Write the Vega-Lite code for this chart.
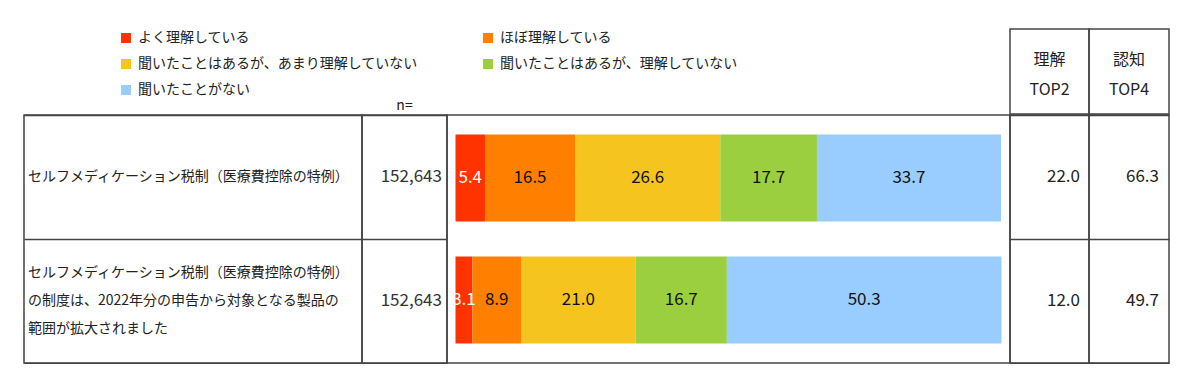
{
  "$schema": "https://vega.github.io/schema/vega-lite/v6.json",
  "padding": {"left": 23, "top": 28, "right": 0, "bottom": 0},
  "config": {
    "font": "Noto Sans CJK JP",
    "view": {"stroke": "#444", "strokeWidth": 1.5},
    "text": {"font": "Noto Sans CJK JP", "color": "#222"}
  },
  "datasets": {
    "rows": [
      {"row": "r1", "label": "セルフメディケーション税制（医療費控除の特例）", "n": 152643, "top2": 22.0, "top4": 66.3},
      {"row": "r2", "label": "セルフメディケーション税制（医療費控除の特例）\nの制度は、2022年分の申告から対象となる製品の\n範囲が拡大されました", "n": 152643, "top2": 12.0, "top4": 49.7}
    ],
    "bars": [
      {"row": "r1", "o": 1, "cat": "よく理解している", "v": 5.4},
      {"row": "r1", "o": 2, "cat": "ほぼ理解している", "v": 16.5},
      {"row": "r1", "o": 3, "cat": "聞いたことはあるが、あまり理解していない", "v": 26.6},
      {"row": "r1", "o": 4, "cat": "聞いたことはあるが、理解していない", "v": 17.7},
      {"row": "r1", "o": 5, "cat": "聞いたことがない", "v": 33.7},
      {"row": "r2", "o": 1, "cat": "よく理解している", "v": 3.1},
      {"row": "r2", "o": 2, "cat": "ほぼ理解している", "v": 8.9},
      {"row": "r2", "o": 3, "cat": "聞いたことはあるが、あまり理解していない", "v": 21.0},
      {"row": "r2", "o": 4, "cat": "聞いたことはあるが、理解していない", "v": 16.7},
      {"row": "r2", "o": 5, "cat": "聞いたことがない", "v": 50.3}
    ],
    "blank": [{"t": ""}],
    "nh": [{"t": "n="}],
    "h2": [{"h": "理解\nTOP2"}],
    "h4": [{"h": "認知\nTOP4"}]
  },
  "spacing": -3,
  "vconcat": [
    {
      "spacing": 0,
      "bounds": "flush",
      "hconcat": [
        {
          "width": 338, "height": 85,
          "data": {"name": "blank"},
          "view": {"stroke": null},
          "mark": {"type": "text"},
          "encoding": {"text": {"field": "t"}}
        },
        {
          "width": 85, "height": 85,
          "data": {"name": "nh"},
          "view": {"stroke": null},
          "mark": {"type": "text", "fontSize": 14, "baseline": "alphabetic", "dy": -4},
          "encoding": {"y": {"value": "height"}, "text": {"field": "t"}}
        },
        {
          "width": 563, "height": 85,
          "data": {"name": "blank"},
          "view": {"stroke": null},
          "mark": {"type": "text"},
          "encoding": {"text": {"field": "t"}}
        },
        {
          "width": 79, "height": 85,
          "data": {"name": "h2"},
          "view": {"stroke": "#444", "strokeWidth": 1.5, "fill": null},
          "mark": {"type": "text", "lineBreak": "\n", "fontSize": 16, "lineHeight": 30, "dy": -12},
          "encoding": {"text": {"field": "h"}}
        },
        {
          "width": 80, "height": 85,
          "data": {"name": "h4"},
          "view": {"stroke": "#444", "strokeWidth": 1.5, "fill": null},
          "mark": {"type": "text", "lineBreak": "\n", "fontSize": 16, "lineHeight": 30, "dy": -12},
          "encoding": {"text": {"field": "h"}}
        }
      ]
    },
    {
      "spacing": 0,
      "bounds": "flush",
      "hconcat": [
        {
          "width": 338, "height": 248,
          "data": {"name": "rows"},
          "encoding": {
            "y": {"field": "row", "type": "nominal", "scale": {"paddingInner": 0, "paddingOuter": 0},
                  "axis": {"grid": true, "gridColor": "#444", "gridWidth": 1.5, "tickBand": "extent", "ticks": false, "labels": false, "domain": false, "title": null}},
            "x": {"value": 0},
            "text": {"field": "label"}
          },
          "layer": [
            {
              "transform": [{"filter": "datum.row == 'r1'"}],
              "mark": {"type": "text", "align": "left", "lineBreak": "\n", "lineHeight": 28, "fontSize": 14, "dx": 4}
            },
            {
              "transform": [{"filter": "datum.row == 'r2'"}],
              "mark": {"type": "text", "align": "left", "lineBreak": "\n", "lineHeight": 28, "fontSize": 14, "dx": 4, "dy": -28}
            }
          ]
        },
        {
          "width": 85, "height": 248,
          "data": {"name": "rows"},
          "mark": {"type": "text", "align": "right", "fontSize": 17, "dx": -5, "color": "#333"},
          "encoding": {
            "y": {"field": "row", "type": "nominal", "scale": {"paddingInner": 0, "paddingOuter": 0},
                  "axis": {"grid": true, "gridColor": "#444", "gridWidth": 1.5, "tickBand": "extent", "ticks": false, "labels": false, "domain": false, "title": null}},
            "x": {"value": "width"},
            "text": {"field": "n", "type": "quantitative", "format": ","}
          }
        },
        {
          "width": 563, "height": 248,
          "data": {"name": "bars"},
          "encoding": {
            "y": {"field": "row", "type": "nominal", "axis": null, "scale": {"paddingInner": 0.287, "paddingOuter": 0.16}}
          },
          "layer": [
            {
              "mark": {"type": "bar"},
              "encoding": {
                "x": {"field": "v", "type": "quantitative", "stack": "zero", "axis": null,
                      "scale": {"domain": [0, 100], "nice": false, "padding": 8.5}},
                "order": {"field": "o", "type": "quantitative"},
                "color": {
                  "field": "cat", "type": "nominal",
                  "scale": {
                    "domain": ["よく理解している", "ほぼ理解している", "聞いたことはあるが、あまり理解していない", "聞いたことはあるが、理解していない", "聞いたことがない"],
                    "range": ["#FF3300", "#FF8000", "#F5C41E", "#9BCF40", "#99CCFF"]
                  },
                  "legend": {
                    "orient": "none", "legendX": 95, "legendY": 2, "columns": 2, "direction": "horizontal", "title": null,
                    "padding": 0, "symbolType": "square", "symbolSize": 100, "symbolStrokeWidth": 0,
                    "labelFontSize": 14, "labelFont": "Noto Sans CJK JP", "labelColor": "#222",
                    "labelLimit": 400, "labelOffset": 5, "columnPadding": 63, "rowPadding": 12
                  }
                }
              }
            },
            {
              "mark": {"type": "text", "fontSize": 17},
              "encoding": {
                "x": {"field": "v", "type": "quantitative", "stack": "zero", "bandPosition": 0.5},
                "detail": {"field": "cat"},
                "order": {"field": "o", "type": "quantitative"},
                "text": {"field": "v", "type": "quantitative", "format": ".1f"},
                "color": {"condition": {"test": "datum.o == 1", "value": "white"}, "value": "#111"}
              }
            }
          ]
        },
        {
          "width": 79, "height": 248,
          "data": {"name": "rows"},
          "mark": {"type": "text", "align": "right", "fontSize": 17, "dx": -9},
          "encoding": {
            "y": {"field": "row", "type": "nominal", "scale": {"paddingInner": 0, "paddingOuter": 0},
                  "axis": {"grid": true, "gridColor": "#444", "gridWidth": 1.5, "tickBand": "extent", "ticks": false, "labels": false, "domain": false, "title": null}},
            "x": {"value": "width"},
            "text": {"field": "top2", "type": "quantitative", "format": ".1f"}
          }
        },
        {
          "width": 80, "height": 248,
          "data": {"name": "rows"},
          "mark": {"type": "text", "align": "right", "fontSize": 17, "dx": -10},
          "encoding": {
            "y": {"field": "row", "type": "nominal", "scale": {"paddingInner": 0, "paddingOuter": 0},
                  "axis": {"grid": true, "gridColor": "#444", "gridWidth": 1.5, "tickBand": "extent", "ticks": false, "labels": false, "domain": false, "title": null}},
            "x": {"value": "width"},
            "text": {"field": "top4", "type": "quantitative", "format": ".1f"}
          }
        }
      ]
    }
  ]
}
